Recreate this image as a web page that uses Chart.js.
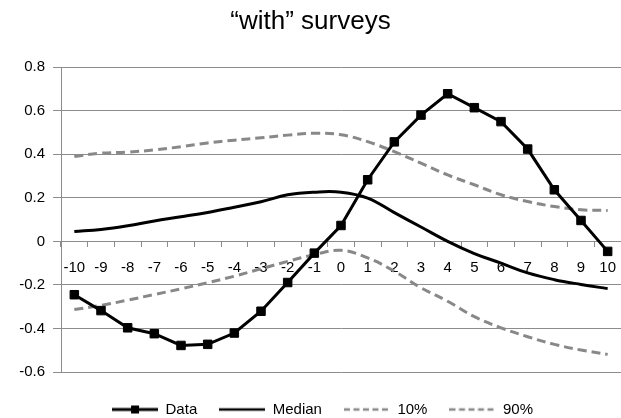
<!DOCTYPE html>
<html>
<head>
<meta charset="utf-8">
<script src="https://cdn.jsdelivr.net/npm/chart.js@4.4.1/dist/chart.umd.min.js"></script>
<style>
  html, body { margin: 0; padding: 0; background: #fff; }
  #wrap { width: 621px; height: 418px; }
</style>
</head>
<body>
<div id="wrap"><canvas id="chart" width="621" height="418"></canvas></div>
<script>
// categories and series
const CATEGORIES = ['-10', '-9', '-8', '-7', '-6', '-5', '-4', '-3', '-2', '-1', '0',
  '1', '2', '3', '4', '5', '6', '7', '8', '9', '10'];

const DATA = [-0.245, -0.318, -0.397, -0.424, -0.478, -0.473, -0.421, -0.321, -0.189, -0.054, 0.073,
  0.283, 0.457, 0.58, 0.678, 0.614, 0.55, 0.424, 0.237, 0.096, -0.046];

const MEDIAN = [0.045, 0.055, 0.072, 0.094, 0.113, 0.133, 0.157, 0.182, 0.214, 0.226, 0.226,
  0.199, 0.132, 0.066, 0.0, -0.056, -0.1, -0.145, -0.176, -0.198, -0.217];

const P10 = [-0.313, -0.294, -0.27, -0.244, -0.218, -0.19, -0.16, -0.126, -0.092, -0.061, -0.041,
  -0.076, -0.137, -0.213, -0.275, -0.346, -0.397, -0.438, -0.473, -0.499, -0.519];

const P90 = [0.39, 0.405, 0.41, 0.42, 0.435, 0.452, 0.465, 0.476, 0.488, 0.497, 0.49,
  0.458, 0.412, 0.359, 0.305, 0.26, 0.214, 0.183, 0.16, 0.145, 0.142];

const SERIES_NAMES = ['Data', 'Median', '10%', '90%'];

const FONT = "'Liberation Sans', Arial, sans-serif";
const GRID = '#8c8c8c';
const BAND = '#888888';

// small canvases used as legend samples (line, line + square, dashed line)
function legendSample(kind) {
  const c = document.createElement('canvas');
  c.width = 46;
  c.height = 12;
  const g = c.getContext('2d');
  g.lineCap = 'butt';
  if (kind === 'dash') {
    g.strokeStyle = BAND;
    g.lineWidth = 2.5;
    g.setLineDash([6, 3.5]);
  } else {
    g.strokeStyle = '#000';
    g.lineWidth = kind === 'marker' ? 3 : 2.5;
  }
  g.beginPath();
  g.moveTo(0, 6);
  g.lineTo(46, 6);
  g.stroke();
  if (kind === 'marker') {
    g.fillStyle = '#000';
    g.fillRect(19, 2, 8, 8);
  }
  return c;
}

const SAMPLES = [legendSample('marker'), legendSample('line'), legendSample('dash'), legendSample('dash')];

// nudge the legend to where the reference has it
const legendShift = {
  id: 'legendShift',
  afterLayout(chart) {
    const l = chart.legend;
    if (!l) return;
    l.left += 12; l.right += 12;
    l.top += 8; l.bottom += 8;
  }
};

new Chart(document.getElementById('chart'), {
  type: 'line',
  data: {
    labels: CATEGORIES,
    datasets: [
      {
        label: SERIES_NAMES[0],
        data: DATA,
        borderColor: '#000',
        backgroundColor: '#000',
        borderWidth: 3,
        tension: 0,
        pointStyle: 'rect',
        pointRadius: 6,
        pointBorderWidth: 1
      },
      {
        label: SERIES_NAMES[1],
        data: MEDIAN,
        borderColor: '#000',
        borderWidth: 3,
        tension: 0.4,
        pointRadius: 0
      },
      {
        label: SERIES_NAMES[2],
        data: P10,
        borderColor: BAND,
        borderWidth: 3,
        borderDash: [9, 5],
        tension: 0.4,
        pointRadius: 0
      },
      {
        label: SERIES_NAMES[3],
        data: P90,
        borderColor: BAND,
        borderWidth: 3,
        borderDash: [9, 5],
        tension: 0.4,
        pointRadius: 0
      }
    ]
  },
  options: {
    responsive: false,
    animation: false,
    layout: { autoPadding: false, padding: { top: 0, right: 0, left: 0, bottom: -1 } },
    plugins: {
      tooltip: { enabled: false },
      title: {
        display: true,
        text: '\u201Cwith\u201D surveys',
        color: '#000',
        font: { family: FONT, size: 26, weight: 'normal' },
        padding: { top: 6, bottom: 30 }
      },
      legend: {
        display: true,
        position: 'bottom',
        labels: {
          usePointStyle: true,
          pointStyleWidth: 46,
          padding: 22,
          color: '#000',
          font: { family: FONT, size: 15 },
          generateLabels(chart) {
            return chart.data.datasets.map((ds, i) => ({
              text: ds.label,
              pointStyle: SAMPLES[i],
              fillStyle: 'rgba(0,0,0,0)',
              strokeStyle: 'rgba(0,0,0,0)',
              lineWidth: 0,
              hidden: false,
              datasetIndex: i
            }));
          }
        }
      }
    },
    scales: {
      x: {
        type: 'category',
        offset: true,
        position: { y: 0 },
        grid: { offset: true, drawOnChartArea: false, drawTicks: true, tickLength: 5, color: GRID },
        border: { color: GRID },
        ticks: {
          color: '#000',
          padding: 0,
          autoSkip: false,
          maxRotation: 0,
          // tall line box pushes the labels down without widening the axis padding
          font: { family: FONT, size: 15, lineHeight: 2.8 }
        }
      },
      y: {
        min: -0.6,
        max: 0.8,
        afterFit(scale) { scale.width = 61; },
        grid: { color: GRID, tickLength: 8, drawTicks: true },
        border: { color: GRID },
        ticks: {
          stepSize: 0.2,
          padding: 8,
          color: '#000',
          font: { family: FONT, size: 15 },
          callback: v => String(Number(v.toFixed(1)))
        }
      }
    }
  },
  plugins: [legendShift]
});
</script>
</body>
</html>
